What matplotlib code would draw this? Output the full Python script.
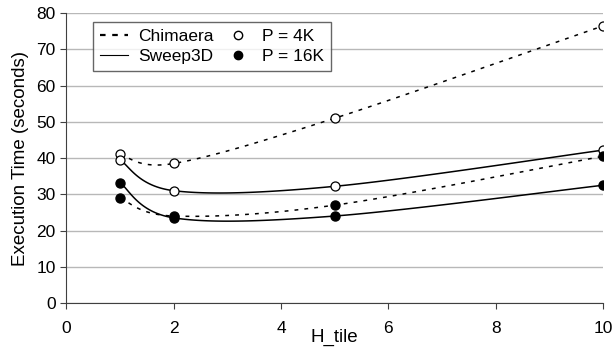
import numpy as np
import matplotlib
matplotlib.use("Agg")
import matplotlib.pyplot as plt
from matplotlib.lines import Line2D

plt.rcParams['font.family'] = ['Liberation Sans', 'DejaVu Sans']

h_tile = [1, 2, 5, 10]
chimaera_4k = [41, 38.5, 51, 76.5]
chimaera_16k = [29, 24, 27, 40.5]
sweep_4k = [39.5, 31, 32.2, 42.2]
sweep_16k = [33.2, 23.5, 24, 32.5]


def excel_smooth(x, y, n=40):
    p = np.column_stack([x, y]).astype(float)
    out = [p[0]]
    for i in range(len(p) - 1):
        p0 = p[i - 1] if i > 0 else p[i]
        p1 = p[i]
        p2 = p[i + 1]
        p3 = p[i + 2] if i + 2 < len(p) else p[i + 1]
        c1 = p1 + (p2 - p0) / 6
        c2 = p2 - (p3 - p1) / 6
        t = np.linspace(0, 1, n)[1:, None]
        seg = ((1 - t) ** 3) * p1 + 3 * ((1 - t) ** 2) * t * c1 + 3 * (1 - t) * t ** 2 * c2 + t ** 3 * p2
        out.extend(seg)
    out = np.array(out)
    return out[:, 0], out[:, 1]


fig = plt.figure(figsize=(6.13, 3.56), dpi=100)
ax = fig.add_axes([0.108, 0.149, 0.876, 0.814])

dash = (0, (2.5, 4))
for ys, ls in [(chimaera_4k, dash), (chimaera_16k, dash), (sweep_4k, '-'), (sweep_16k, '-')]:
    sx, sy = excel_smooth(h_tile, ys)
    ax.plot(sx, sy, color='black', linestyle=ls, linewidth=1.1, zorder=2)

ms = 6.5
for ys in [chimaera_4k, sweep_4k]:
    ax.plot(h_tile, ys, linestyle='none', marker='o', markersize=ms,
            markerfacecolor='white', markeredgecolor='black', markeredgewidth=0.9, zorder=3)
for ys in [chimaera_16k, sweep_16k]:
    ax.plot(h_tile, ys, linestyle='none', marker='o', markersize=ms,
            markerfacecolor='black', markeredgecolor='black', zorder=3)

ax.set_xlim(0, 10)
ax.set_ylim(0, 80)
ax.set_xticks([0, 2, 4, 6, 8, 10])
ax.set_yticks(range(0, 81, 10))
ax.yaxis.grid(True, color='#b8b8b8', linewidth=1)
ax.set_axisbelow(True)
for s in ['top', 'right']:
    ax.spines[s].set_visible(False)
for s in ['left', 'bottom']:
    ax.spines[s].set_color('#404040')
ax.tick_params(axis='both', direction='out', length=4, color='#404040', labelsize=12.5)
ax.tick_params(axis='x', pad=9)
ax.set_xlabel('H_tile', fontsize=13.5, labelpad=-5)
ax.set_ylabel('Execution Time (seconds)', fontsize=13.5, labelpad=5)

handles = [
    Line2D([], [], color='black', linestyle=(0, (2.5, 3)), linewidth=1.6),
    Line2D([], [], color='black', linestyle='-', linewidth=0.8),
    Line2D([], [], linestyle='none', marker='o', markersize=6, markerfacecolor='white', markeredgecolor='black'),
    Line2D([], [], linestyle='none', marker='o', markersize=6, markerfacecolor='black', markeredgecolor='black'),
]
labels = ['Chimaera', 'Sweep3D', 'P = 4K', 'P = 16K']
leg = ax.legend(handles, labels, ncol=2, loc='upper left', bbox_to_anchor=(0.05, 0.97),
                fontsize=12.5, frameon=True, fancybox=False, edgecolor='#404040',
                handlelength=1.6, handletextpad=0.6, columnspacing=0.6,
                labelspacing=0.3, borderpad=0.4, borderaxespad=0)
leg.get_frame().set_linewidth(1)
leg.set_zorder(5)

fig.savefig('out.png', dpi=100)
